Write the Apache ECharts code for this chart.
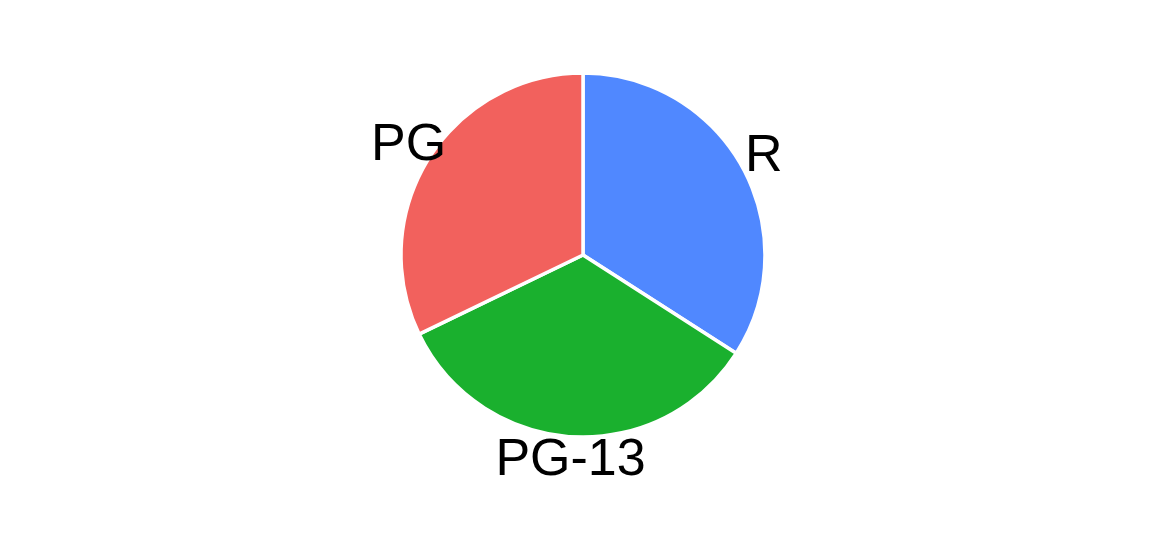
<!DOCTYPE html>
<html>
<head>
<meta charset="utf-8">
<script src="https://cdn.jsdelivr.net/npm/echarts@6/dist/echarts.min.js"></script>
<style>
html,body{margin:0;padding:0;background:#fff;}
#chart{width:1152px;height:544px;}
</style>
</head>
<body>
<div id="chart"></div>
<script>
const categories = ['R', 'PG-13', 'PG'];
const values = [106, 105, 100];
const colors = ['#5088ff', '#1ab02e', '#f2615d'];

const data = categories.map((c, i) => ({ name: c, value: values[i], itemStyle: { color: colors[i] } }));
const labelData = categories.map((c, i) => ({ name: c, value: values[i] }));

const chart = echarts.init(document.getElementById('chart'), null, { renderer: 'canvas' });
chart.setOption({
  animation: false,
  backgroundColor: '#ffffff',
  series: [
    {
      type: 'pie',
      center: [583, 255],
      radius: [0, 182],
      startAngle: 90,
      clockwise: true,
      silent: true,
      data: data,
      itemStyle: { borderColor: '#ffffff', borderWidth: 3.5 },
      label: { show: false },
      labelLine: { show: false }
    },
    {
      type: 'pie',
      center: [583, 255],
      radius: [193, 213],
      startAngle: 90,
      clockwise: true,
      silent: true,
      data: labelData,
      itemStyle: { color: 'rgba(0,0,0,0)', borderWidth: 0 },
      label: {
        show: true,
        position: 'inside',
        formatter: '{b}',
        color: '#000000',
        fontSize: 52,
        fontFamily: 'Liberation Sans, Arial, sans-serif'
      },
      labelLine: { show: false }
    }
  ]
});
</script>
</body>
</html>
